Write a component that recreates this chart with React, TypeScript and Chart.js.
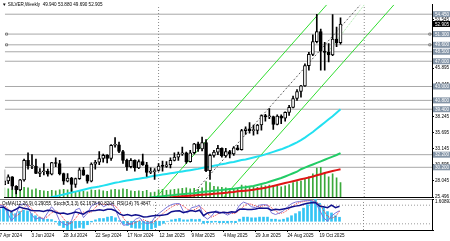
import React, { useEffect, useRef } from 'react';
import { Chart, registerables } from 'chart.js';

Chart.register(...registerables);

const FONT_FAMILY = '"Liberation Sans", Arial, sans-serif';
const FS = 4.6;

// Weekly bars, index = weeks since 7 Apr 2024
const OPEN = [
  27.45, 28.05, 28.70, 27.20, 26.60, 28.20, 31.30, 30.40, 30.40, 29.25,
  29.50, 29.60, 29.10, 30.95, 30.80, 29.20, 28.00, 28.50, 27.50, 28.40,
  29.80, 28.95, 28.00, 30.70, 31.00, 31.60, 32.10, 31.60, 33.70, 33.75,
  32.70, 31.30, 30.30, 31.30, 30.10, 31.10, 30.60, 29.40, 29.50, 29.70,
  30.40, 30.35, 30.60, 31.30, 31.80, 32.30, 32.50, 31.10, 32.50, 33.90,
  33.10, 34.10, 29.65, 32.10, 32.60, 33.20, 32.00, 32.70, 32.30, 33.30,
  33.00, 36.00, 36.30, 36.00, 36.05, 36.90, 38.40, 38.20, 38.25, 37.00,
  38.30, 38.00, 38.90, 39.70, 41.10, 42.20, 43.10, 46.30, 48.10, 50.10,
  51.70, 48.60, 48.40, 48.00, 50.50, 49.94,
];
const HIGH = [
  29.80, 29.00, 28.75, 27.30, 28.30, 31.50, 32.50, 32.20, 31.50, 30.00,
  30.80, 29.90, 31.00, 31.70, 31.30, 29.30, 29.20, 28.60, 28.50, 30.10,
  30.20, 29.00, 30.90, 31.30, 32.70, 32.30, 32.20, 33.80, 34.90, 34.20,
  32.90, 31.50, 31.60, 31.40, 31.40, 32.30, 31.00, 30.10, 30.00, 30.80,
  31.20, 31.10, 31.70, 32.50, 32.60, 33.40, 32.60, 32.90, 34.00, 34.20,
  35.00, 34.60, 32.30, 32.90, 33.70, 33.30, 33.20, 32.90, 33.50, 33.70,
  36.20, 36.60, 37.30, 36.90, 37.00, 38.50, 38.60, 39.50, 38.30, 38.50,
  38.50, 39.00, 40.00, 41.50, 42.50, 43.20, 46.60, 48.40, 51.20, 54.45,
  52.10, 50.00, 49.80, 54.40, 52.40, 53.88,
];
const LOW = [
  27.40, 27.60, 26.70, 26.00, 26.50, 28.00, 29.90, 30.00, 29.20, 28.70,
  29.00, 28.80, 29.00, 30.30, 29.00, 27.50, 27.90, 26.40, 27.00, 28.30,
  28.90, 27.70, 27.90, 29.90, 30.60, 31.00, 30.90, 31.30, 33.40, 32.50,
  30.80, 29.70, 30.10, 29.60, 30.00, 30.50, 28.75, 29.20, 28.30, 29.60,
  29.60, 30.20, 30.10, 31.20, 31.30, 32.10, 30.80, 31.00, 32.30, 32.70,
  32.80, 29.50, 28.30, 31.80, 32.20, 31.80, 31.80, 31.70, 32.10, 32.90,
  32.90, 35.40, 35.60, 35.30, 35.50, 36.10, 37.50, 37.90, 36.20, 36.90,
  37.10, 37.50, 38.40, 39.60, 40.80, 41.30, 43.00, 45.60, 47.90, 49.90,
  45.60, 45.60, 46.90, 47.90, 49.30, 49.69,
];
const CLOSE = [
  28.05, 28.70, 27.20, 26.60, 28.20, 31.30, 30.40, 30.45, 29.25, 29.50,
  29.60, 29.10, 30.95, 30.80, 29.20, 28.00, 28.50, 27.50, 28.40, 29.80,
  28.95, 28.00, 30.70, 31.00, 31.60, 32.10, 31.60, 33.70, 33.75, 32.70,
  31.30, 30.30, 31.30, 30.10, 31.10, 30.60, 29.40, 29.50, 29.70, 30.40,
  30.35, 30.60, 31.30, 31.80, 32.30, 32.50, 31.10, 32.50, 33.90, 33.10,
  34.10, 29.65, 32.10, 32.60, 33.20, 32.00, 32.70, 32.30, 33.30, 33.00,
  36.00, 36.30, 36.00, 36.05, 36.90, 38.40, 38.20, 38.25, 37.00, 38.30,
  38.00, 38.90, 39.70, 41.10, 42.20, 43.10, 46.30, 48.10, 50.10, 51.70,
  48.60, 48.40, 48.00, 50.50, 49.90, 52.905,
];
const VOLUME = [
  190, 170, 160, 150, 140, 200, 190, 150, 170, 140,
  130, 120, 140, 130, 150, 160, 150, 170, 120, 130,
  120, 110, 150, 140, 150, 130, 120, 150, 160, 150,
  170, 160, 130, 120, 130, 120, 140, 90, 100, 150,
  160, 140, 150, 160, 170, 180, 190, 170, 180, 160,
  190, 320, 300, 220, 210, 200, 190, 180, 170, 160,
  250, 230, 220, 210, 200, 240, 230, 250, 240, 220,
  210, 230, 260, 300, 320, 330, 380, 420, 480, 600,
  620, 500, 420, 480, 400, 300,
];
const MA_CYAN = [
  24.2, 24.3, 24.4, 24.5, 24.6, 24.7, 24.8, 24.9, 25.0, 25.05, 25.15,
  25.3, 25.45, 25.6, 25.75, 25.9, 26.05, 26.2, 26.35, 26.5, 26.65, 26.8, 26.95, 27.05, 27.15, 27.3,
  27.45, 27.6, 27.75, 27.85, 28.0, 28.1, 28.2, 28.3, 28.4, 28.5, 28.6, 28.75, 28.85,
  28.95, 29.05, 29.15, 29.25, 29.35, 29.45, 29.55, 29.65, 29.75, 29.85, 29.95, 30.1,
  30.2, 30.3, 30.45, 30.55, 30.7, 30.8, 30.95, 31.05, 31.2, 31.35, 31.45, 31.6, 31.75,
  31.9, 32.05, 32.25, 32.45, 32.65, 32.85, 33.05, 33.3, 33.55, 33.85, 34.15, 34.5,
  34.9, 35.35, 35.8, 36.3, 36.8, 37.3, 37.8, 38.3, 38.85, 39.4,
];
const MA_GREEN = [
  22.6, 22.65, 22.7, 22.75, 22.8, 22.85, 22.9, 22.95, 23.0, 23.05, 23.1, 23.15, 23.2, 23.3, 23.4, 23.5, 23.6, 23.7, 23.8, 23.9, 24.0,
  24.1, 24.2, 24.3, 24.4, 24.5, 24.6, 24.7, 24.8, 24.9, 25.0, 25.05, 25.1, 25.15, 25.2, 25.25, 25.3, 25.4,
  25.5, 25.55, 25.6, 25.7, 25.75, 25.8, 25.9, 25.95, 26.0, 26.05, 26.1, 26.2, 26.3,
  26.35, 26.4, 26.5, 26.55, 26.6, 26.7, 26.75, 26.8, 26.9, 27.0, 27.05, 27.15,
  27.25, 27.4, 27.55, 27.7, 27.9, 28.1, 28.3, 28.5, 28.75, 29.0, 29.25, 29.5, 29.9,
  30.15, 30.4, 30.65, 30.9, 31.15, 31.4, 31.65, 31.9, 32.15, 32.45,
];
const MA_RED = [
  21.8, 21.85, 21.9, 21.95, 22.0, 22.1, 22.2, 22.3, 22.4, 22.5, 22.6, 22.7, 22.8, 22.9, 23.0, 23.1, 23.2, 23.3, 23.4, 23.5, 23.6,
  23.7, 23.8, 23.9, 24.0, 24.1, 24.2, 24.3, 24.4, 24.5, 24.6, 24.7, 24.8, 24.85, 24.9, 24.95, 25.0, 25.1, 25.15, 25.2, 25.3, 25.35, 25.4,
  25.5, 25.55, 25.6, 25.65, 25.7, 25.75, 25.8, 25.85, 25.9, 25.95, 26.0, 26.05, 26.1, 26.15,
  26.25, 26.3, 26.4, 26.45, 26.5, 26.55, 26.65, 26.75, 26.85, 26.95, 27.1, 27.25, 27.4, 27.55,
  27.7, 27.85, 28.0, 28.15, 28.3, 28.45, 28.6, 28.75, 28.95, 29.1, 29.3, 29.45, 29.6, 29.75, 29.9,
];
const OSMA = [
  0.85, 0.95, 0.85, 0.65, 0.55, 0.7, 0.8, 0.75, 0.55, 0.4,
  0.3, 0.15, 0.15, 0.12, -0.05, -0.3, -0.45, -0.6, -0.63, -0.5,
  -0.45, -0.5, -0.25, -0.05, 0.1, 0.2, 0.2, 0.3, 0.35, 0.25,
  0.05, -0.2, -0.3, -0.45, -0.5, -0.5, -0.6, -0.62, -0.55, -0.45,
  -0.3, -0.15, 0.0, 0.1, 0.15, 0.2, 0.1, 0.1, 0.15, 0.12,
  0.15, -0.15, -0.1, -0.08, -0.05, -0.1, -0.1, -0.12, -0.08, -0.1,
  0.15, 0.3, 0.3, 0.25, 0.25, 0.3, 0.3, 0.3, 0.15, 0.15,
  0.1, 0.15, 0.25, 0.4, 0.55, 0.7, 0.95, 1.2, 1.45, 1.6,
  1.3, 1.0, 0.7, 0.6, 0.4, 0.29055,
];
const RSI = [
  72, 74, 65, 60, 66, 74, 70, 68, 63, 62,
  62, 60, 64, 63, 57, 53, 55, 51, 54, 58,
  55, 51, 60, 62, 63, 65, 63, 67, 67, 62,
  52, 47, 50, 46, 49, 47, 42, 43, 45, 47,
  47, 48, 51, 59, 61, 62, 56, 60, 63, 60,
  64, 46, 55, 57, 59, 55, 57, 56, 59, 57,
  67, 68, 66, 66, 68, 71, 70, 70, 64, 67,
  65, 68, 70, 74, 77, 79, 83, 86, 88, 89,
  77, 75, 72, 80, 72, 76.48,
];
const STOCH_MAIN = [
  80, 78, 55, 30, 45, 80, 85, 78, 50, 35,
  40, 35, 55, 75, 60, 30, 20, 15, 30, 65,
  70, 40, 55, 78, 85, 88, 75, 82, 85, 65,
  35, 15, 18, 20, 35, 40, 25, 20, 25, 45,
  55, 65, 75, 82, 85, 85, 60, 55, 72, 75,
  80, 45, 35, 45, 62, 58, 55, 48, 55, 58,
  80, 90, 85, 75, 72, 80, 82, 80, 55, 50,
  55, 62, 75, 85, 90, 92, 94, 95, 95, 88,
  65, 40, 28, 45, 55, 62.17,
];
const STOCH_SIGNAL = [
  82, 80, 71, 54, 43, 52, 70, 81, 71, 54,
  42, 37, 43, 55, 63, 55, 37, 22, 22, 37,
  55, 58, 55, 58, 73, 84, 83, 82, 81, 77,
  62, 38, 23, 18, 24, 31, 33, 28, 23, 30,
  42, 55, 65, 74, 81, 84, 77, 67, 62, 67,
  76, 67, 53, 42, 47, 55, 58, 54, 53, 54,
  64, 76, 85, 83, 77, 76, 78, 81, 72, 62,
  53, 56, 64, 74, 83, 89, 92, 94, 95, 93,
  83, 64, 44, 38, 43, 60.82,
];

const PRICE_MIN = 25.496;
const PRICE_MAX = 55.94;
const PRICE_TICKS = [25.496, 28.045, 30.595, 33.145, 35.695, 38.245, 40.795, 43.345, 45.895, 48.445, 50.995, 53.545];
const LEVELS = [54.45, 51.3, 49.6, 48.5, 47.0, 43.0, 40.8, 39.4, 32.2, 30.2];
const MARKED_LEVELS = [51.3, 49.6];
const LAST_PRICE = 52.905;
const X_MIN = 0.125;
const X_MAX = 108.125;
const VOL_MAX = 4000;
const YEAR_SEPARATORS = [39, 91];
const DATE_TICKS = [0, 8, 16, 24, 32, 40, 48, 56, 64, 72, 80];
const DATE_LABELS = ['7 Apr 2024', '3 Jun 2024', '28 Jul 2024', '22 Sep 2024', '17 Nov 2024', '12 Jan 2025', '9 Mar 2025', '4 May 2025', '29 Jun 2025', '24 Aug 2025', '19 Oct 2025'];
const CHANNEL_UPPER = [{ x: 38.5, y: 25.496 }, { x: 81.5, y: 55.94 }];
const CHANNEL_LOWER = [{ x: 55.5, y: 25.496 }, { x: 98.5, y: 55.94 }];
const CHANNEL_MID = [{ x: 47, y: 25.496 }, { x: 90, y: 55.94 }];
const PALE_LINE = [{ x: 81.5, y: 48.21 }, { x: 91, y: 55.94 }];
const OSMA_MIN = -0.6302;
const OSMA_MAX = 1.60893;
const OSMA_LABELS = ['1.60893', '-0.6302'];
const STOCH_LEVELS = [80, 20];
const TITLE = '\u25BC SILVER,Weekly  49.940 53.880 49.690 52.905';
const SUB_TITLE = 'OsMA(12,26,9) 0.29055  Stoch(5,3,3) 62.1678 60.8204  RSI(14) 76.4847';

const fontSpec = { family: FONT_FAMILY, size: FS };

function noPad(a: any) {
  a.paddingLeft = 0; a.paddingRight = 0; a.paddingTop = 0; a.paddingBottom = 0;
}

function mkLine(data: any[], color: string, width: number, order: number, extra: any = {}) {
  return {
    type: 'line', data, borderColor: color, borderWidth: width, pointRadius: 0,
    fill: false, tension: 0, order, xAxisID: 'x', yAxisID: 'y', ...extra,
  };
}

const series = (arr: number[]) => arr.map((v, i) => ({ x: i, y: v }));

const mainOverlay = {
  id: 'mainOverlay',
  afterDraw(chart: any) {
    const { ctx, chartArea, scales } = chart;
    const y = scales.y;
    ctx.save();
    ctx.font = `${FS}px ${FONT_FAMILY}`;
    ctx.textBaseline = 'middle';
    ctx.textAlign = 'left';
    LEVELS.forEach((v) => {
      const py = y.getPixelForValue(v);
      ctx.fillStyle = '#8595a7';
      ctx.fillRect(chartArea.right + 1, py - 3, 17, 6);
      ctx.fillStyle = '#ffffff';
      ctx.fillText(v.toFixed(3), chartArea.right + 3, py + 0.3);
    });
    const lp = y.getPixelForValue(LAST_PRICE);
    ctx.fillStyle = '#000000';
    ctx.fillRect(chartArea.right + 1, lp - 3, 17, 6);
    ctx.fillStyle = '#ffffff';
    ctx.fillText(LAST_PRICE.toFixed(3), chartArea.right + 3, lp + 0.3);
    ctx.fillStyle = '#000000';
    ctx.fillText(TITLE, 2, 5);
    ctx.restore();
  },
};

const subOverlay = {
  id: 'subOverlay',
  afterDraw(chart: any) {
    const { ctx, chartArea } = chart;
    ctx.save();
    ctx.font = `${FS}px ${FONT_FAMILY}`;
    ctx.textBaseline = 'middle';
    ctx.textAlign = 'left';
    ctx.fillStyle = '#000000';
    ctx.fillText(SUB_TITLE, 2, chartArea.top + 4.5);
    ctx.restore();
  },
};

function MainChart() {
  const ref = useRef<HTMLCanvasElement>(null);
  useEffect(() => {
    const idx = CLOSE.map((_, i) => i);
    const datasets: any[] = [
      ...LEVELS.map((v) => mkLine([{ x: X_MIN, y: v }, { x: X_MAX, y: v }], '#a8a8a8', 1, 9)),
      ...YEAR_SEPARATORS.map((i) => mkLine([{ x: i, y: PRICE_MIN }, { x: i, y: PRICE_MAX }], '#8a8a8a', 1, 8, { borderDash: [1, 2] })),
      {
        type: 'bar', data: series(VOLUME), xAxisID: 'x', yAxisID: 'yVol',
        backgroundColor: '#3aa83a', barThickness: 1, grouped: false, order: 7,
      },
      mkLine(CHANNEL_UPPER, '#30dd30', 1, 4),
      mkLine(CHANNEL_LOWER, '#30dd30', 1, 4),
      mkLine(CHANNEL_MID, '#606060', 1, 4, { borderDash: [2, 2] }),
      mkLine(PALE_LINE, '#a0e6a0', 1, 4, { borderDash: [1, 1] }),
      mkLine(series(MA_RED), '#e01414', 2, 3),
      mkLine(series(MA_GREEN), '#22cc66', 2, 3),
      mkLine(series(MA_CYAN), '#22e0f0', 2, 3),
      {
        type: 'bar', data: idx.map((i) => ({ x: i, y: [LOW[i], HIGH[i]] })), xAxisID: 'x', yAxisID: 'y',
        backgroundColor: '#000000', barThickness: 1, grouped: false, order: 1, borderSkipped: false,
      },
      {
        type: 'bar',
        data: idx.map((i) => ({ x: i, y: [Math.min(OPEN[i], CLOSE[i]), Math.max(OPEN[i], CLOSE[i])] })),
        xAxisID: 'x', yAxisID: 'y',
        backgroundColor: idx.map((i) => (CLOSE[i] >= OPEN[i] ? '#ffffff' : '#000000')),
        borderColor: '#000000', borderWidth: 1, borderSkipped: false,
        barThickness: 3, grouped: false, order: 0, minBarLength: 1,
      },
      mkLine(
        MARKED_LEVELS.flatMap((v) => [{ x: X_MIN + 0.45, y: v }, { x: X_MAX - 0.55, y: v }]),
        '#606060', 1, 0,
        { showLine: false, pointRadius: 1.4, pointStyle: 'rect', pointBackgroundColor: '#ffffff', pointBorderColor: '#606060', pointBorderWidth: 0.8 },
      ),
    ];
    const chart = new Chart(ref.current as HTMLCanvasElement, {
      type: 'bar',
      data: { datasets },
      options: {
        responsive: false, maintainAspectRatio: false, animation: false, devicePixelRatio: 1, events: [],
        layout: { padding: { left: 0, right: 0, top: 0, bottom: 7 } },
        plugins: { legend: { display: false }, tooltip: { enabled: false }, title: { display: false } },
        scales: {
          x: {
            type: 'linear', min: X_MIN, max: X_MAX, offset: false,
            grid: { display: false, offset: false }, ticks: { display: false },
            border: { display: true, color: '#000000', width: 1 },
            afterFit: (a: any) => { a.height = 1; noPad(a); },
          },
          y: {
            type: 'linear', position: 'right', min: PRICE_MIN, max: PRICE_MAX, beginAtZero: false,
            grid: { display: true, drawOnChartArea: false, drawTicks: true, tickLength: 2, color: '#000000' },
            border: { display: true, color: '#000000', width: 1 },
            ticks: { font: fontSpec, color: '#000000', padding: 1, autoSkip: false, callback: (v: any) => Number(v).toFixed(3) },
            afterBuildTicks: (a: any) => { a.ticks = PRICE_TICKS.map((v) => ({ value: v })); },
            afterFit: (a: any) => { a.width = 18; noPad(a); },
          },
          yVol: { type: 'linear', display: false, min: 0, max: VOL_MAX, beginAtZero: true },
        },
      } as any,
      plugins: [mainOverlay],
    } as any);
    return () => chart.destroy();
  }, []);
  return <canvas ref={ref} width={450} height={205} style={{ position: 'absolute', left: 0, top: 0, display: 'block', width: 450, height: 205 }} />;
}

function SubChart() {
  const ref = useRef<HTMLCanvasElement>(null);
  useEffect(() => {
    const datasets: any[] = [
      ...STOCH_LEVELS.map((v) => mkLine([{ x: X_MIN, y: v }, { x: X_MAX, y: v }], '#9c9c9c', 1, 9, { yAxisID: 'y2', borderDash: [1, 2] })),
      ...YEAR_SEPARATORS.map((i) => mkLine([{ x: i, y: 0 }, { x: i, y: 100 }], '#8a8a8a', 1, 8, { yAxisID: 'y2', borderDash: [1, 2] })),
      {
        type: 'bar', data: series(OSMA), xAxisID: 'x', yAxisID: 'y',
        backgroundColor: '#33c4f4', barThickness: 2, grouped: false, order: 5,
      },
      mkLine(series(STOCH_SIGNAL), '#ee3030', 1, 3, { yAxisID: 'y2', borderDash: [1, 1] }),
      mkLine(series(STOCH_MAIN), '#7a74d8', 1, 2, { yAxisID: 'y2' }),
      mkLine(series(RSI), '#10108c', 1.5, 1, { yAxisID: 'y2' }),
    ];
    const chart = new Chart(ref.current as HTMLCanvasElement, {
      type: 'bar',
      data: { datasets },
      options: {
        responsive: false, maintainAspectRatio: false, animation: false, devicePixelRatio: 1, events: [],
        layout: { padding: { left: 0, right: 0, top: 6, bottom: 0 } },
        plugins: { legend: { display: false }, tooltip: { enabled: false }, title: { display: false } },
        scales: {
          x: {
            type: 'linear', position: 'bottom', min: X_MIN, max: X_MAX, offset: false,
            grid: { display: true, offset: false, drawOnChartArea: false, drawTicks: true, tickLength: 2, color: '#000000' },
            border: { display: true, color: '#000000', width: 1 },
            ticks: {
              font: fontSpec, color: '#000000', padding: 1, autoSkip: false, maxRotation: 0, minRotation: 0,
              align: 'start', callback: (_v: any, i: number) => DATE_LABELS[i],
            },
            afterBuildTicks: (a: any) => { a.ticks = DATE_TICKS.map((v) => ({ value: v })); },
            afterFit: (a: any) => { a.height = 11; noPad(a); },
          },
          xTop: {
            type: 'linear', position: 'top', min: X_MIN, max: X_MAX, offset: false,
            grid: { display: false, offset: false }, ticks: { display: false },
            border: { display: true, color: '#808080', width: 1 },
            afterFit: (a: any) => { a.height = 1; noPad(a); },
          },
          y: {
            type: 'linear', position: 'right', weight: 1, min: OSMA_MIN, max: OSMA_MAX, beginAtZero: false,
            grid: { display: true, drawOnChartArea: false, drawTicks: true, tickLength: 2, color: '#000000' },
            border: { display: true, color: '#000000', width: 1 },
            ticks: { font: fontSpec, color: '#000000', padding: 1, autoSkip: false, align: 'start', callback: () => OSMA_LABELS[0] },
            afterBuildTicks: (a: any) => { a.ticks = [{ value: OSMA_MAX }]; },
            afterFit: (a: any) => { a.width = 18; noPad(a); },
          },
          yB: {
            type: 'linear', position: 'right', weight: 0, min: OSMA_MIN, max: OSMA_MAX, beginAtZero: false,
            grid: { display: true, drawOnChartArea: false, drawTicks: true, tickLength: 2, color: '#000000' },
            border: { display: false },
            ticks: { font: fontSpec, color: '#000000', padding: 1, autoSkip: false, align: 'end', callback: () => OSMA_LABELS[1] },
            afterBuildTicks: (a: any) => { a.ticks = [{ value: OSMA_MIN }]; },
            afterFit: (a: any) => { a.width = 0; noPad(a); },
          },
          y2: { type: 'linear', display: false, min: 0, max: 100, beginAtZero: false },
        },
      } as any,
      plugins: [subOverlay],
    } as any);
    return () => chart.destroy();
  }, []);
  return <canvas ref={ref} width={450} height={49} style={{ position: 'absolute', left: 0, top: 192, display: 'block', width: 450, height: 49 }} />;
}

export default function App() {
  useEffect(() => {
    document.body.style.margin = '0';
    document.body.style.background = '#ffffff';
  }, []);
  return (
    <div style={{ position: 'fixed', left: 0, top: 0, width: 450, height: 241, background: '#ffffff', overflow: 'hidden' }}>
      <MainChart />
      <SubChart />
    </div>
  );
}
